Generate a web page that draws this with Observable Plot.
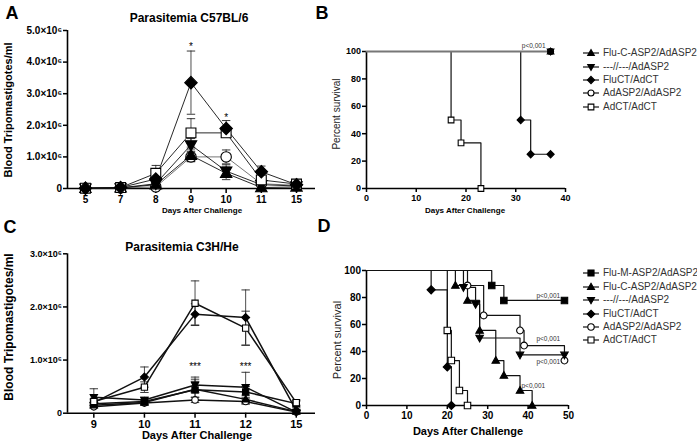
<!DOCTYPE html>
<html><head><meta charset="utf-8">
<script src="https://cdn.jsdelivr.net/npm/d3@7"></script>
<script src="https://cdn.jsdelivr.net/npm/@observablehq/plot@0.6"></script>
<style>
body{margin:0;background:#fff}
#root{position:relative;width:697px;height:446px;overflow:hidden;background:#fff;font-family:"Liberation Sans",Arial,Helvetica,sans-serif;color:#000}
.abs{position:absolute;white-space:nowrap;line-height:1}
.panel{position:absolute}
</style></head><body><div id="root"></div>
<script>
// ================= DATA =================
// Panel A – Parasitemia C57BL/6 (values ×10^6 blood tripomastigotes/ml)
const daysA = ["5","7","8","9","10","11","15"];
const fluC_A      = [0.01,0.02,0.12,1.05,0.48,0.03,0.05];
const fluC_A_err  = [0,0,0.04,0.20,0.20,0.02,0.02];
const dash_A      = [0.01,0.02,0.15,1.38,0.55,0.12,0.08];
const dash_A_err  = [0,0,0.05,0.20,0.20,0.04,0.03];
const fluCT_A     = [0.01,0.03,0.30,3.35,1.90,0.53,0.12];
const fluCT_A_err = [0,0.01,0.10,1.00,0.25,0.18,0.04];
const adASP2_A     = [0.01,0.02,0.05,1.00,1.00,0.15,0.10];
const adASP2_A_err = [0,0,0.03,0.15,0.22,0.05,0.03];
const adCT_A      = [0.01,0.03,0.48,1.76,1.76,0.27,0.14];
const adCT_A_err  = [0,0.01,0.25,0.45,0.10,0.08,0.04];
const yTicksA = [0,1,2,3,4,5];
const starsA = [{day:"9", v:4.5, text:"*"}, {day:"10", v:2.25, text:"*"}];

// Panel C – Parasitemia C3H/He (values ×10^6)
const daysC = ["9","10","11","12","15"];
const fluM_C      = [0.18,0.22,0.44,0.40,0.18];
const fluM_C_err  = [0.03,0.03,0.20,0.10,0.05];
const fluC_C      = [0.15,0.20,0.45,0.26,0.03];
const fluC_C_err  = [0.03,0.03,0.15,0.08,0.02];
const dash_C      = [0.30,0.25,0.53,0.49,0.02];
const dash_C_err  = [0.16,0.05,0.15,0.28,0.02];
const fluCT_C     = [0.20,0.68,1.86,1.80,0.05];
const fluCT_C_err = [0.05,0.19,0.20,0.52,0.05];
const adASP2_C     = [0.12,0.19,0.25,0.22,0.02];
const adASP2_C_err = [0.02,0.03,0.05,0.05,0.01];
const adCT_C      = [0.22,0.49,2.07,1.60,0.20];
const adCT_C_err  = [0.05,0.10,0.42,0.32,0.05];
const yTicksC = [0,1,2,3];
const starsC = [{day:"11", v:0.88, text:"***"}, {day:"12", v:0.88, text:"***"}];

// Panel B – survival C57BL/6 (day, percent)
const tB_fluC  = [0,37],           sB_fluC  = [100,100];
const tB_dash  = [0,37],           sB_dash  = [100,100];
const tB_fluCT = [0,31,33,37],     sB_fluCT = [100,50,25,25];
const tB_adASP2= [0,37],           sB_adASP2= [100,100];
const tB_adCT  = [0,17,19,23],     sB_adCT  = [100,50,33.3,0];
const pB = [{t:33.6, s:104, label:"p<0,001"}];

// Panel D – survival C3H/He (day, percent)
const tD_fluM  = [0,31,34,49],               sD_fluM  = [100,88.9,77.8,77.8];
const tD_fluC  = [0,22,25,28,32,34,38,41],   sD_fluC  = [100,88.9,77.8,55.6,33.3,22.2,11.1,0];
const tD_dash  = [0,24,27,28,38,49],         sD_dash  = [100,87.5,75,50,37.5,37.5];
const tD_fluCT = [0,16,20,21],               sD_fluCT = [100,85.7,28.6,0];
const tD_adASP2= [0,25,29,38,39,49],         sD_adASP2= [100,88.9,66.7,55.6,44.4,33.3];
const tD_adCT  = [0,20,21,23,25],            sD_adCT  = [100,55.6,33.3,11.1,0];
const pD = [{t:45, s:81, label:"p<0,001"},{t:45, s:49.5, label:"p<0,001"},{t:45, s:32.5, label:"p<0,001"},{t:41.3, s:14.5, label:"p<0,001"}];

const namesB = ["Flu-C-ASP2/AdASP2","---//---/AdASP2","FluCT/AdCT","AdASP2/AdASP2","AdCT/AdCT"];
const namesD = ["Flu-M-ASP2/AdASP2","Flu-C-ASP2/AdASP2","---//---/AdASP2","FluCT/AdCT","AdASP2/AdASP2","AdCT/AdCT"];

// ================= STYLE =================
const FONT = '"Liberation Sans", Arial, Helvetica, sans-serif';
const R = s => Math.sqrt(s/Math.PI);
const SYM = {
  square:  {draw(c,s){const r=R(s)*0.95; c.rect(-r,-r,2*r,2*r);}},
  triUp:   {draw(c,s){const r=R(s); c.moveTo(0,-r*1.15); c.lineTo(r*1.1,r*0.8); c.lineTo(-r*1.1,r*0.8); c.closePath();}},
  triDown: {draw(c,s){const r=R(s); c.moveTo(0,r*1.15); c.lineTo(r*1.1,-r*0.8); c.lineTo(-r*1.1,-r*0.8); c.closePath();}},
  diamond: {draw(c,s){const r=R(s)*1.2; c.moveTo(0,-r); c.lineTo(r,0); c.lineTo(0,r); c.lineTo(-r,0); c.closePath();}},
  circle:  {draw(c,s){const r=R(s); c.moveTo(r,0); c.arc(0,0,r,0,2*Math.PI);}},
  cap:     {draw(c,s){const r=R(s); c.moveTo(-r,0); c.lineTo(r,0);}}
};
const STYLE = {
  "Flu-M-ASP2/AdASP2": {sym:SYM.square,  fill:"#000", stroke:"#000"},
  "Flu-C-ASP2/AdASP2": {sym:SYM.triUp,   fill:"#000", stroke:"#000"},
  "---//---/AdASP2":   {sym:SYM.triDown, fill:"#000", stroke:"#000"},
  "FluCT/AdCT":        {sym:SYM.diamond, fill:"#000", stroke:"#000"},
  "AdASP2/AdASP2":     {sym:SYM.circle,  fill:"#fff", stroke:"#000"},
  "AdCT/AdCT":         {sym:SYM.square,  fill:"#fff", stroke:"#000"}
};

const root = document.getElementById("root");
function place(el, left, top){ el.classList.add("panel"); el.style.left=left+"px"; el.style.top=top+"px"; root.appendChild(el); }
function label(text, x, y, o={}){
  const el=document.createElement("div"); el.className="abs"; el.textContent=text;
  el.style.left=x+"px"; el.style.top=y+"px";
  el.style.transform="translate(-50%,-50%)"+(o.rotate?" rotate(-90deg)":"");
  el.style.fontSize=(o.size||10)+"px"; el.style.fontWeight=o.bold?"bold":"normal";
  el.style.color=o.color||"#000"; if(o.ls) el.style.letterSpacing=o.ls+"px";
  root.appendChild(el);
}
function legend(names, x0, y0, dy, r){
  names.forEach((n,k)=>{
    const st=STYLE[n], y=y0+k*dy;
    const svg=d3.create("svg").attr("width",18).attr("height",12)
      .style("position","absolute").style("left",(x0-9)+"px").style("top",(y-6)+"px");
    svg.append("line").attr("x1",1).attr("x2",17).attr("y1",6).attr("y2",6).attr("stroke","#111").attr("stroke-width",1.2);
    svg.append("path").attr("transform","translate(9,6)").attr("d",d3.symbol(st.sym, r*r*Math.PI)())
      .attr("fill",st.fill).attr("stroke",st.stroke).attr("stroke-width",1.1);
    root.appendChild(svg.node());
    const t=document.createElement("div"); t.className="abs"; t.textContent=n;
    t.style.left=(x0+12)+"px"; t.style.top=y+"px"; t.style.transform="translateY(-50%)";
    t.style.fontSize="10px"; t.style.color="#333"; root.appendChild(t);
  });
}

// ================= PARASITEMIA PANELS =================
function paraPlot(o){
  const marks=[
    Plot.ruleY([0],{stroke:"#000",strokeWidth:1.6}),
    Plot.ruleX([o.xDomain[0]],{stroke:"#000",strokeWidth:1.6}),
    Plot.axisX({ticks:d3.range(o.days.length), tickFormat:i=>o.days[i], tickSize:5, tickPadding:2, strokeWidth:1.5, fontWeight:"bold", fontSize:o.xFont, label:null}),
    Plot.axisY({ticks:o.yTicks.map(v=>v*1e6), tickFormat:v=>v===0?"0":(v/1e6).toFixed(1)+"×10⁶", tickSize:4, tickPadding:1.5, strokeWidth:1.5, fontWeight:"bold", fontSize:o.yFont, label:null})
  ];
  for(const s of o.series){
    const rows=o.days.map((d,i)=>({i, v:s.v[i]*1e6, e:s.e[i]*1e6}));
    const er=rows.filter(d=>d.e>0);
    marks.push(
      Plot.ruleX(er,{x:"i", y1:d=>Math.max(0,d.v-d.e), y2:d=>d.v+d.e, stroke:"#222", strokeWidth:0.8}),
      Plot.dot(er,{x:"i", y:d=>d.v+d.e, symbol:SYM.cap, r:o.capR, stroke:"#222", strokeWidth:0.9}),
      Plot.dot(er.filter(d=>d.v-d.e>0),{x:"i", y:d=>d.v-d.e, symbol:SYM.cap, r:o.capR, stroke:"#222", strokeWidth:0.9}),
      Plot.line(rows,{x:"i", y:"v", stroke:s.line||"#111", strokeWidth:o.lineW})
    );
  }
  for(const s of o.series){
    const st=STYLE[s.name];
    const rows=o.days.map((d,i)=>({i, v:s.v[i]*1e6}));
    marks.push(Plot.dot(rows,{x:"i", y:"v", symbol:st.sym, r:o.r, fill:st.fill, stroke:st.stroke, strokeWidth:1.1}));
  }
  marks.push(Plot.text(o.stars,{x:d=>o.days.indexOf(d.day), y:d=>d.v*1e6, text:"text", fontSize:10, fill:"#000"}));
  return Plot.plot({
    width:o.width, height:o.height, marginLeft:o.ml, marginRight:o.mr, marginTop:o.mt, marginBottom:o.mb,
    x:{type:"linear", domain:o.xDomain},
    y:{type:"linear", domain:[0, o.yTicks[o.yTicks.length-1]*1e6]},
    style:{fontFamily:FONT, background:"transparent", overflow:"visible", color:"#000"},
    marks
  });
}

place(paraPlot({
  days:daysA, yTicks:yTicksA, xDomain:[-0.51,6.54], stars:starsA,
  width:345, height:220, ml:67, mr:30, mt:30, mb:32, r:5.2, capR:4.2, lineW:0.9, xFont:10, yFont:10,
  series:[
    {name:"AdASP2/AdASP2", v:adASP2_A, e:adASP2_A_err, line:"#666"},
    {name:"Flu-C-ASP2/AdASP2", v:fluC_A, e:fluC_A_err},
    {name:"---//---/AdASP2", v:dash_A, e:dash_A_err},
    {name:"AdCT/AdCT", v:adCT_A, e:adCT_A_err},
    {name:"FluCT/AdCT", v:fluCT_A, e:fluCT_A_err}
  ]
}), 0, 0);

place(paraPlot({
  days:daysC, yTicks:yTicksC, xDomain:[-0.52,4.38], stars:starsC,
  width:345, height:226, ml:67, mr:30, mt:33.3, mb:33.3, r:3.3, capR:4.2, lineW:1.5, xFont:11, yFont:9,
  series:[
    {name:"AdASP2/AdASP2", v:adASP2_C, e:adASP2_C_err},
    {name:"Flu-C-ASP2/AdASP2", v:fluC_C, e:fluC_C_err},
    {name:"Flu-M-ASP2/AdASP2", v:fluM_C, e:fluM_C_err},
    {name:"---//---/AdASP2", v:dash_C, e:dash_C_err},
    {name:"FluCT/AdCT", v:fluCT_C, e:fluCT_C_err},
    {name:"AdCT/AdCT", v:adCT_C, e:adCT_C_err}
  ]
}), 0, 220);

// ================= SURVIVAL PANELS =================
function survPlot(o){
  const marks=[
    Plot.ruleY([0],{stroke:"#000",strokeWidth:1.6}),
    Plot.ruleX([0],{stroke:"#000",strokeWidth:1.6}),
    Plot.axisX({ticks:o.xTicks, tickSize:4, tickPadding:2, strokeWidth:1.5, fontWeight:"bold", fontSize:o.font, label:null}),
    Plot.axisY({ticks:[0,20,40,60,80,100], tickSize:4, tickPadding:1.5, strokeWidth:1.5, fontWeight:"bold", fontSize:o.font, label:null})
  ];
  for(const s of o.series){
    const rows=s.t.map((t,i)=>({t, s:s.s[i]}));
    marks.push(Plot.line(rows,{x:"t", y:"s", curve:"step-after", stroke:s.line||"#111", strokeWidth:s.w||1.2}));
  }
  const dotSeries = o.dotOrder ? o.dotOrder.map(n=>o.series.find(s=>s.name===n)) : o.series;
  for(const s of dotSeries){
    const st=STYLE[s.name];
    const rows=s.t.map((t,i)=>({t, s:s.s[i]})).slice(1);
    marks.push(Plot.dot(rows,{x:"t", y:"s", symbol:st.sym, r:o.r, fill:st.fill, stroke:st.stroke, strokeWidth:1.1}));
  }
  marks.push(Plot.text(o.p,{x:"t", y:"s", text:"label", fontSize:6.5, fill:"#333"}));
  return Plot.plot({
    width:o.width, height:o.height, marginLeft:o.ml, marginRight:o.mr, marginTop:o.mt, marginBottom:o.mb,
    x:{type:"linear", domain:o.xDomain}, y:{type:"linear", domain:[0,100]},
    style:{fontFamily:FONT, background:"transparent", overflow:"visible", color:"#000"},
    marks
  });
}

place(survPlot({
  width:367, height:220, ml:36, mr:132, mt:51, mb:32, xDomain:[0,40], xTicks:[0,10,20,30,40], font:9, r:3, p:pB,
  series:[
    {name:"AdCT/AdCT", t:tB_adCT, s:sB_adCT},
    {name:"FluCT/AdCT", t:tB_fluCT, s:sB_fluCT},
    {name:"Flu-C-ASP2/AdASP2", t:tB_fluC, s:sB_fluC},
    {name:"---//---/AdASP2", t:tB_dash, s:sB_dash},
    {name:"AdASP2/AdASP2", t:tB_adASP2, s:sB_adASP2, line:"#777", w:1.8}
  ],
  dotOrder:["AdCT/AdCT","FluCT/AdCT","AdASP2/AdASP2","Flu-C-ASP2/AdASP2","---//---/AdASP2"]
}), 330, 0);

place(survPlot({
  width:367, height:226, ml:36, mr:129, mt:50, mb:41, xDomain:[0,50], xTicks:[0,10,20,30,40,50], font:10, r:3.4, p:pD,
  series:[
    {name:"AdASP2/AdASP2", t:tD_adASP2, s:sD_adASP2},
    {name:"AdCT/AdCT", t:tD_adCT, s:sD_adCT},
    {name:"FluCT/AdCT", t:tD_fluCT, s:sD_fluCT},
    {name:"---//---/AdASP2", t:tD_dash, s:sD_dash},
    {name:"Flu-C-ASP2/AdASP2", t:tD_fluC, s:sD_fluC},
    {name:"Flu-M-ASP2/AdASP2", t:tD_fluM, s:sD_fluM}
  ]
}), 330, 220);

// ================= TEXT =================
label("A", 12, 13, {size:18, bold:true});
label("B", 322, 13, {size:18, bold:true});
label("C", 10, 227, {size:18, bold:true});
label("D", 324, 226, {size:18, bold:true});
label("Parasitemia C57BL/6", 189, 18, {size:12, bold:true});
label("Parasitemia C3H/He", 182, 247, {size:12, bold:true});
label("Days After Challenge", 202, 211, {size:8, bold:true});
label("Days After Challenge", 465, 211, {size:8, bold:true});
label("Days After Challenge", 197, 435, {size:11, bold:true});
label("Days After Challenge", 468, 431, {size:11, bold:true});
label("Blood Tripomastigotes/ml", 8, 110, {size:11, bold:true, rotate:true});
label("Blood Tripomastigotes/ml", 9, 327, {size:12, bold:true, rotate:true});
label("Percent  survival", 337, 114, {size:10, rotate:true, color:"#222"});
label("Percent  survival", 337, 340, {size:11, rotate:true, color:"#222"});

legend(namesB, 591, 53.3, 13.3, 3);
legend(namesD, 591, 273.3, 13.4, 3.2);
</script></body></html>
